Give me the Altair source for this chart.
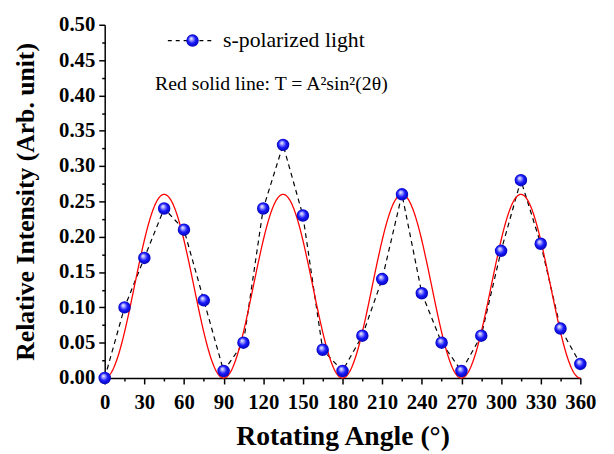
import altair as alt
import pandas as pd

# ---- data ----
angles = [0, 15, 30, 45, 60, 75, 90, 105, 120, 135, 150, 165, 180,
          195, 210, 225, 240, 255, 270, 285, 300, 315, 330, 345, 360]
intensity = [0.00, 0.10, 0.17, 0.24, 0.21, 0.11, 0.01, 0.05, 0.24, 0.33, 0.23, 0.04, 0.01,
             0.06, 0.14, 0.26, 0.12, 0.05, 0.01, 0.06, 0.18, 0.28, 0.19, 0.07, 0.02]
fit_A2 = 0.26  # amplitude A^2 of the red model curve T = A^2 sin^2(2θ)
x_major_ticks = list(range(0, 361, 30))
x_minor_ticks = list(range(15, 360, 30))
y_major_ticks = [round(i * 0.05, 2) for i in range(11)]
y_minor_ticks = [round(0.025 + i * 0.05, 3) for i in range(10)]
legend_labels = ["s-polarized light", "Red solid line: T = A²sin²(2θ)"]

df = pd.DataFrame({"angle": angles, "intensity": intensity})

FONT = "Liberation Serif"
W, H = 482, 358

xscale = alt.Scale(domain=[0, 360], nice=False, zero=False)
yscale = alt.Scale(domain=[0, 0.5], nice=False)

x_axis = alt.Axis(
    values=x_major_ticks, tickSize=6,
    title="Rotating Angle (°)",
    titleX=W / 2, titleY=67, titleBaseline="alphabetic", titleAlign="center",
    titleFontSize=28,
    labelPadding=8, labelFlush=False, labelOverlap=False,
)
y_axis = alt.Axis(
    values=y_major_ticks, format=".2f", tickSize=6,
    title="Relative Intensity (Arb. unit)",
    titleAngle=270, titleX=-72, titleY=H / 2, titleBaseline="alphabetic", titleAlign="center",
    titleFontSize=26,
    labelPadding=4, labelFlush=False, labelOverlap=False,
)
x_minor_axis = alt.Axis(values=x_minor_ticks, tickSize=3, labels=False, domain=False,
                        title=None, orient="bottom")
y_minor_axis = alt.Axis(values=y_minor_ticks, tickSize=3, labels=False, domain=False,
                        title=None, orient="left")

sphere = {
    "gradient": "radial",
    "x1": 0.38, "y1": 0.32, "r1": 0.0,
    "x2": 0.5, "y2": 0.5, "r2": 0.55,
    "stops": [
        {"offset": 0.0, "color": "#ffffff"},
        {"offset": 0.22, "color": "#a8a8ff"},
        {"offset": 0.55, "color": "#1a1aff"},
        {"offset": 1.0, "color": "#0000a8"},
    ],
}

base = alt.Chart(df)

dashed = base.mark_line(color="black", strokeDash=[5, 4], strokeWidth=1.2).encode(
    x=alt.X("angle:Q", scale=xscale, axis=x_axis),
    y=alt.Y("intensity:Q", scale=yscale, axis=y_axis),
)

fit = (
    alt.Chart(alt.sequence(0, 360.5, 0.5, as_="angle"))
    .transform_calculate(T=f"{fit_A2} * pow(sin(2 * datum.angle * PI / 180), 2)")
    .mark_line(color="red", strokeWidth=1.3, clip=False)
    .encode(x=alt.X("angle:Q", scale=xscale, axis=x_minor_axis),
            y=alt.Y("T:Q", scale=yscale, axis=y_minor_axis))
)

points = base.mark_circle(size=160, fill=sphere, opacity=1, clip=False).encode(
    x=alt.X("angle:Q", scale=xscale, axis=None),
    y=alt.Y("intensity:Q", scale=yscale, axis=None),
)

leg_df = pd.DataFrame({"label": [legend_labels[0]]})
leg_line = alt.Chart(leg_df).mark_rule(color="black", strokeDash=[4, 4], strokeWidth=1.2).encode(
    x=alt.value(64), x2=alt.value(112), y=alt.value(16)
)
leg_pt = alt.Chart(leg_df).mark_circle(size=160, fill=sphere, opacity=1).encode(
    x=alt.value(89), y=alt.value(16)
)
leg_txt1 = alt.Chart(leg_df).mark_text(
    font=FONT, fontSize=22, align="left", baseline="alphabetic", color="black"
).encode(x=alt.value(120), y=alt.value(23), text="label:N")
leg_txt2 = alt.Chart(pd.DataFrame({"label": [legend_labels[1]]})).mark_text(
    font=FONT, fontSize=20, align="left", baseline="alphabetic", color="black"
).encode(x=alt.value(51), y=alt.value(66), text="label:N")

chart = (
    alt.layer(dashed, fit, points, leg_line, leg_pt, leg_txt1, leg_txt2)
    .resolve_axis(x="independent", y="independent")
    .properties(
        width=W, height=H,
        autosize=alt.AutoSizeParams(type="none"),
        padding={"left": 98, "top": 14, "right": 26, "bottom": 74},
    )
    .configure_view(stroke=None)
    .configure_axis(
        grid=False,
        domainColor="black", domainWidth=1.5,
        tickColor="black", tickWidth=1.5,
        labelFont=FONT, labelFontSize=21, labelFontWeight="bold", labelColor="black",
        titleFont=FONT, titleFontWeight="bold", titleColor="black",
    )
)

chart.save("out.html", embed_options={"renderer": "svg", "actions": False})
